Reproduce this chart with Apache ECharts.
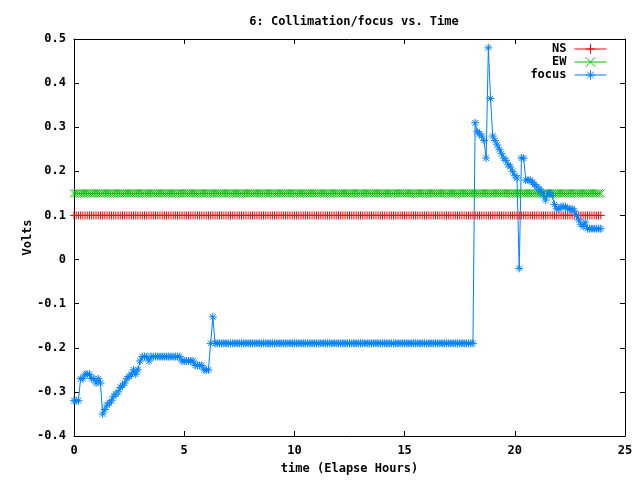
<!DOCTYPE html>
<html>
<head>
<meta charset="utf-8">
<script src="https://cdn.jsdelivr.net/npm/echarts@6/dist/echarts.min.js"></script>
<style>html,body{margin:0;padding:0;background:#fff}#c{width:640px;height:480px}</style>
</head>
<body>
<div id="c"></div>
<script>
var times = [
0.0,0.1,0.2,0.3,0.4,0.5,0.6,0.7,0.8,0.9,
1.0,1.1,1.2,1.3,1.4,1.5,1.6,1.7,1.8,1.9,
2.0,2.1,2.2,2.3,2.4,2.5,2.6,2.7,2.8,2.9,
3.0,3.1,3.2,3.3,3.4,3.5,3.6,3.7,3.8,3.9,
4.0,4.1,4.2,4.3,4.4,4.5,4.6,4.7,4.8,4.9,
5.0,5.1,5.2,5.3,5.4,5.5,5.6,5.7,5.8,5.9,
6.0,6.1,6.2,6.3,6.4,6.5,6.6,6.7,6.8,6.9,
7.0,7.1,7.2,7.3,7.4,7.5,7.6,7.7,7.8,7.9,
8.0,8.1,8.2,8.3,8.4,8.5,8.6,8.7,8.8,8.9,
9.0,9.1,9.2,9.3,9.4,9.5,9.6,9.7,9.8,9.9,
10.0,10.1,10.2,10.3,10.4,10.5,10.6,10.7,10.8,10.9,
11.0,11.1,11.2,11.3,11.4,11.5,11.6,11.7,11.8,11.9,
12.0,12.1,12.2,12.3,12.4,12.5,12.6,12.7,12.8,12.9,
13.0,13.1,13.2,13.3,13.4,13.5,13.6,13.7,13.8,13.9,
14.0,14.1,14.2,14.3,14.4,14.5,14.6,14.7,14.8,14.9,
15.0,15.1,15.2,15.3,15.4,15.5,15.6,15.7,15.8,15.9,
16.0,16.1,16.2,16.3,16.4,16.5,16.6,16.7,16.8,16.9,
17.0,17.1,17.2,17.3,17.4,17.5,17.6,17.7,17.8,17.9,
18.0,18.1,18.2,18.3,18.4,18.5,18.6,18.7,18.8,18.9,
19.0,19.1,19.2,19.3,19.4,19.5,19.6,19.7,19.8,19.9,
20.0,20.1,20.2,20.3,20.4,20.5,20.6,20.7,20.8,20.9,
21.0,21.1,21.2,21.3,21.4,21.5,21.6,21.7,21.8,21.9,
22.0,22.1,22.2,22.3,22.4,22.5,22.6,22.7,22.8,22.9,
23.0,23.1,23.2,23.3,23.4,23.5,23.6,23.7,23.8,23.9
];
var nsValues = [
0.1,0.1,0.1,0.1,0.1,0.1,0.1,0.1,0.1,0.1,
0.1,0.1,0.1,0.1,0.1,0.1,0.1,0.1,0.1,0.1,
0.1,0.1,0.1,0.1,0.1,0.1,0.1,0.1,0.1,0.1,
0.1,0.1,0.1,0.1,0.1,0.1,0.1,0.1,0.1,0.1,
0.1,0.1,0.1,0.1,0.1,0.1,0.1,0.1,0.1,0.1,
0.1,0.1,0.1,0.1,0.1,0.1,0.1,0.1,0.1,0.1,
0.1,0.1,0.1,0.1,0.1,0.1,0.1,0.1,0.1,0.1,
0.1,0.1,0.1,0.1,0.1,0.1,0.1,0.1,0.1,0.1,
0.1,0.1,0.1,0.1,0.1,0.1,0.1,0.1,0.1,0.1,
0.1,0.1,0.1,0.1,0.1,0.1,0.1,0.1,0.1,0.1,
0.1,0.1,0.1,0.1,0.1,0.1,0.1,0.1,0.1,0.1,
0.1,0.1,0.1,0.1,0.1,0.1,0.1,0.1,0.1,0.1,
0.1,0.1,0.1,0.1,0.1,0.1,0.1,0.1,0.1,0.1,
0.1,0.1,0.1,0.1,0.1,0.1,0.1,0.1,0.1,0.1,
0.1,0.1,0.1,0.1,0.1,0.1,0.1,0.1,0.1,0.1,
0.1,0.1,0.1,0.1,0.1,0.1,0.1,0.1,0.1,0.1,
0.1,0.1,0.1,0.1,0.1,0.1,0.1,0.1,0.1,0.1,
0.1,0.1,0.1,0.1,0.1,0.1,0.1,0.1,0.1,0.1,
0.1,0.1,0.1,0.1,0.1,0.1,0.1,0.1,0.1,0.1,
0.1,0.1,0.1,0.1,0.1,0.1,0.1,0.1,0.1,0.1,
0.1,0.1,0.1,0.1,0.1,0.1,0.1,0.1,0.1,0.1,
0.1,0.1,0.1,0.1,0.1,0.1,0.1,0.1,0.1,0.1,
0.1,0.1,0.1,0.1,0.1,0.1,0.1,0.1,0.1,0.1,
0.1,0.1,0.1,0.1,0.1,0.1,0.1,0.1,0.1,0.1
];
var ewValues = [
0.15,0.15,0.15,0.15,0.15,0.15,0.15,0.15,0.15,0.15,
0.15,0.15,0.15,0.15,0.15,0.15,0.15,0.15,0.15,0.15,
0.15,0.15,0.15,0.15,0.15,0.15,0.15,0.15,0.15,0.15,
0.15,0.15,0.15,0.15,0.15,0.15,0.15,0.15,0.15,0.15,
0.15,0.15,0.15,0.15,0.15,0.15,0.15,0.15,0.15,0.15,
0.15,0.15,0.15,0.15,0.15,0.15,0.15,0.15,0.15,0.15,
0.15,0.15,0.15,0.15,0.15,0.15,0.15,0.15,0.15,0.15,
0.15,0.15,0.15,0.15,0.15,0.15,0.15,0.15,0.15,0.15,
0.15,0.15,0.15,0.15,0.15,0.15,0.15,0.15,0.15,0.15,
0.15,0.15,0.15,0.15,0.15,0.15,0.15,0.15,0.15,0.15,
0.15,0.15,0.15,0.15,0.15,0.15,0.15,0.15,0.15,0.15,
0.15,0.15,0.15,0.15,0.15,0.15,0.15,0.15,0.15,0.15,
0.15,0.15,0.15,0.15,0.15,0.15,0.15,0.15,0.15,0.15,
0.15,0.15,0.15,0.15,0.15,0.15,0.15,0.15,0.15,0.15,
0.15,0.15,0.15,0.15,0.15,0.15,0.15,0.15,0.15,0.15,
0.15,0.15,0.15,0.15,0.15,0.15,0.15,0.15,0.15,0.15,
0.15,0.15,0.15,0.15,0.15,0.15,0.15,0.15,0.15,0.15,
0.15,0.15,0.15,0.15,0.15,0.15,0.15,0.15,0.15,0.15,
0.15,0.15,0.15,0.15,0.15,0.15,0.15,0.15,0.15,0.15,
0.15,0.15,0.15,0.15,0.15,0.15,0.15,0.15,0.15,0.15,
0.15,0.15,0.15,0.15,0.15,0.15,0.15,0.15,0.15,0.15,
0.15,0.15,0.15,0.15,0.15,0.15,0.15,0.15,0.15,0.15,
0.15,0.15,0.15,0.15,0.15,0.15,0.15,0.15,0.15,0.15,
0.15,0.15,0.15,0.15,0.15,0.15,0.15,0.15,0.15,0.15
];
var focusValues = [
-0.32,-0.32,-0.32,-0.27,-0.27,-0.26,-0.26,-0.26,-0.27,-0.27,
-0.28,-0.27,-0.28,-0.35,-0.34,-0.33,-0.325,-0.32,-0.31,-0.305,
-0.30,-0.29,-0.285,-0.28,-0.27,-0.265,-0.26,-0.25,-0.26,-0.25,
-0.23,-0.22,-0.22,-0.22,-0.23,-0.22,-0.22,-0.22,-0.22,-0.22,
-0.22,-0.22,-0.22,-0.22,-0.22,-0.22,-0.22,-0.22,-0.22,-0.23,
-0.23,-0.23,-0.23,-0.23,-0.23,-0.24,-0.24,-0.24,-0.24,-0.25,
-0.25,-0.25,-0.19,-0.13,-0.19,-0.19,-0.19,-0.19,-0.19,-0.19,
-0.19,-0.19,-0.19,-0.19,-0.19,-0.19,-0.19,-0.19,-0.19,-0.19,
-0.19,-0.19,-0.19,-0.19,-0.19,-0.19,-0.19,-0.19,-0.19,-0.19,
-0.19,-0.19,-0.19,-0.19,-0.19,-0.19,-0.19,-0.19,-0.19,-0.19,
-0.19,-0.19,-0.19,-0.19,-0.19,-0.19,-0.19,-0.19,-0.19,-0.19,
-0.19,-0.19,-0.19,-0.19,-0.19,-0.19,-0.19,-0.19,-0.19,-0.19,
-0.19,-0.19,-0.19,-0.19,-0.19,-0.19,-0.19,-0.19,-0.19,-0.19,
-0.19,-0.19,-0.19,-0.19,-0.19,-0.19,-0.19,-0.19,-0.19,-0.19,
-0.19,-0.19,-0.19,-0.19,-0.19,-0.19,-0.19,-0.19,-0.19,-0.19,
-0.19,-0.19,-0.19,-0.19,-0.19,-0.19,-0.19,-0.19,-0.19,-0.19,
-0.19,-0.19,-0.19,-0.19,-0.19,-0.19,-0.19,-0.19,-0.19,-0.19,
-0.19,-0.19,-0.19,-0.19,-0.19,-0.19,-0.19,-0.19,-0.19,-0.19,
-0.19,-0.19,0.31,0.29,0.285,0.28,0.27,0.23,0.48,0.365,
0.28,0.27,0.26,0.25,0.24,0.23,0.225,0.215,0.21,0.20,
0.19,0.185,-0.02,0.23,0.23,0.18,0.18,0.18,0.175,0.17,
0.165,0.16,0.155,0.145,0.135,0.15,0.15,0.145,0.125,0.115,
0.115,0.12,0.12,0.12,0.115,0.115,0.115,0.11,0.10,0.09,
0.08,0.075,0.085,0.07,0.07,0.07,0.07,0.07,0.07,0.07
];
var xTicks = [0, 5, 10, 15, 20, 25];
var yTicks = [-0.4, -0.3, -0.2, -0.1, 0, 0.1, 0.2, 0.3, 0.4, 0.5];

function pairs(xs, ys) { return xs.map(function (x, i) { return [x, ys[i]]; }); }

var FONT = 'DejaVu Sans Mono';
var plusSym = 'path://M0,5L10,5M5,0L5,10';
var crossSym = 'path://M0,0L10,10M10,0L0,10';
var starSym = 'path://M0,5L10,5M5,0L5,10M1.5,1.5L8.5,8.5M8.5,1.5L1.5,8.5';

function mkSeries(name, ys, color, sym) {
  return {
    name: name, type: 'line', data: pairs(times, ys),
    symbol: sym, symbolSize: 8, showAllSymbol: true, animation: false,
    lineStyle: { color: color, width: 1 },
    itemStyle: { color: color, borderColor: color, borderWidth: 1 },
    emphasis: { disabled: true }
  };
}

var chart = echarts.init(document.getElementById('c'), null, { renderer: 'canvas' });
var axisText = { color: '#000', fontFamily: FONT, fontSize: 12, fontWeight: 'bold' };
chart.setOption({
  backgroundColor: '#fff',
  animation: false,
  title: {
    text: '6: Collimation/focus vs. Time', left: 349, top: 11, textAlign: 'center',
    textStyle: { color: '#000', fontFamily: FONT, fontSize: 12, fontWeight: 'bold' }
  },
  legend: {
    orient: 'vertical', right: 28, top: 38, align: 'right', itemGap: 1,
    itemWidth: 32, itemHeight: 12,
    lineStyle: { width: 1 },
    itemStyle: { borderWidth: 1 },
    textStyle: { color: '#000', fontFamily: FONT, fontSize: 12, fontWeight: 'bold', padding: [0, 3, 0, 0] },
    data: ['NS', 'EW', 'focus']
  },
  grid: { left: 74, right: 15, top: 39, bottom: 42, containLabel: false },
  xAxis: [{
    type: 'value', min: xTicks[0], max: xTicks[xTicks.length - 1], interval: 5,
    name: 'time (Elapse Hours)', nameLocation: 'middle', nameGap: 27,
    nameTextStyle: axisText,
    axisLine: { onZero: false, lineStyle: { color: '#000', width: 1 } },
    axisTick: { inside: true, length: 5, lineStyle: { color: '#000' } },
    axisLabel: Object.assign({ margin: 9 }, axisText),
    splitLine: { show: false }
  }, {
    type: 'value', position: 'top', min: xTicks[0], max: xTicks[xTicks.length - 1], interval: 5,
    axisLine: { show: true, onZero: false, lineStyle: { color: '#000', width: 1 } },
    axisTick: { inside: true, length: 5, lineStyle: { color: '#000' } },
    axisLabel: { show: false }, splitLine: { show: false }
  }],
  yAxis: [{
    type: 'value', min: yTicks[0], max: yTicks[yTicks.length - 1], interval: 0.1,
    name: 'Volts', nameLocation: 'middle', nameGap: 40, nameRotate: 90,
    nameMoveOverlap: false,
    nameTextStyle: axisText,
    axisLine: { show: true, onZero: false, lineStyle: { color: '#000', width: 1 } },
    axisTick: { show: true, inside: true, length: 5, lineStyle: { color: '#000' } },
    axisLabel: Object.assign({ margin: 8, formatter: function (v) {
      if (Math.abs(v) < 1e-9) return '0';
      return v.toFixed(1);
    } }, axisText),
    splitLine: { show: false }
  }, {
    type: 'value', position: 'right', min: yTicks[0], max: yTicks[yTicks.length - 1], interval: 0.1,
    axisLine: { show: true, onZero: false, lineStyle: { color: '#000', width: 1 } },
    axisTick: { show: true, inside: true, length: 5, lineStyle: { color: '#000' } },
    axisLabel: { show: false }, splitLine: { show: false }
  }],
  series: [
    mkSeries('NS', nsValues, '#ff0000', plusSym),
    mkSeries('EW', ewValues, '#00c000', crossSym),
    mkSeries('focus', focusValues, '#0080ff', starSym)
  ]
});
</script>
</body>
</html>
